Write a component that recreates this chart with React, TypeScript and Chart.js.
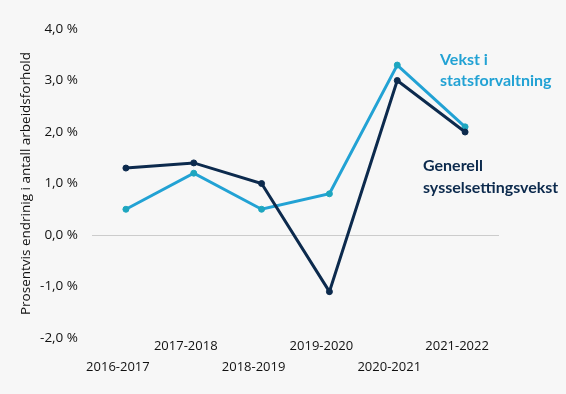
import React, { useEffect, useRef } from "react";
import { Chart, registerables } from "chart.js";

Chart.register(...registerables);

const categories = ["2016-2017", "2017-2018", "2018-2019", "2019-2020", "2020-2021", "2021-2022"];
const generellVekst = [1.3, 1.4, 1.0, -1.1, 3.0, 2.0];
const statsVekst = [0.5, 1.2, 0.5, 0.8, 3.3, 2.1];
const yTitle = "Prosentvis endrinig i antall arbeidsforhold";
const statsLabel = ["Vekst i", "statsforvaltning"];
const generellLabel = ["Generell", "sysselsettingsvekst"];

const DARK = "#0c2a4d";
const LIGHT = "#22a2d4";
const LIGHT_PT = "#1ea6bf";
const BG = "#f7f7f7";

const annotations = {
  id: "annotations",
  afterDraw(chart: any) {
    const ctx = chart.ctx;
    ctx.save();
    ctx.font = "bold 16px Lato";
    ctx.textBaseline = "middle";
    ctx.textAlign = "left";
    ctx.fillStyle = LIGHT;
    ctx.fillText(statsLabel[0], 440, 60);
    ctx.fillText(statsLabel[1], 440, 81);
    ctx.fillStyle = DARK;
    ctx.fillText(generellLabel[0], 423, 166);
    ctx.fillText(generellLabel[1], 423, 188);
    ctx.restore();
  },
};

export default function App() {
  const ref = useRef<HTMLCanvasElement>(null);
  useEffect(() => {
    document.body.style.margin = "0";
    document.body.style.background = BG;
    const labels = categories.map((c, i) => (i % 2 === 0 ? ["", c] : [c]));
    const chart = new Chart(ref.current!, {
      type: "line",
      data: {
        labels,
        datasets: [
          {
            data: generellVekst,
            borderColor: DARK,
            backgroundColor: DARK,
            pointBackgroundColor: DARK,
            pointBorderColor: DARK,
            borderWidth: 3,
            pointRadius: 3,
            pointBorderWidth: 1,
            tension: 0,
          },
          {
            data: statsVekst,
            borderColor: LIGHT,
            backgroundColor: LIGHT_PT,
            pointBackgroundColor: LIGHT_PT,
            pointBorderColor: LIGHT_PT,
            borderWidth: 3,
            pointRadius: 3,
            pointBorderWidth: 1,
            tension: 0,
          },
        ],
      },
      options: {
        animation: false,
        responsive: false,
        layout: { padding: { top: 29, right: 67, left: 8, bottom: 0 } },
        plugins: { legend: { display: false }, tooltip: { enabled: false } },
        scales: {
          x: {
            offset: true,
            grid: { display: false, drawTicks: false },
            border: { display: false },
            ticks: {
              color: "#111",
              font: { family: "Open Sans", size: 13, lineHeight: 1.6 },
              maxRotation: 0,
              autoSkip: false,
              padding: -2,
              labelOffset: -8,
            },
            afterFit: (s: any) => {
              s.height = 56;
            },
          },
          y: {
            min: -2,
            max: 4,
            ticks: {
              stepSize: 1,
              color: "#111",
              font: { family: "Open Sans", size: 13.5 },
              padding: 14,
              callback: (v: any) => Number(v).toFixed(1).replace(".", ",") + " %",
            },
            grid: {
              drawTicks: false,
              color: (c: any) => (c.tick && c.tick.value === 0 ? "#cccccc" : "transparent"),
            },
            border: { display: false },
            title: {
              display: true,
              text: yTitle,
              color: "#111",
              font: { family: "Open Sans", size: 13.5 },
              padding: { top: 10, bottom: 0 },
            },
            afterFit: (s: any) => {
              s.width = 84;
            },
          },
        },
      },
      plugins: [annotations],
    });
    return () => chart.destroy();
  }, []);
  return (
    <div style={{ width: 566, height: 394, background: BG }}>
      <canvas ref={ref} width={566} height={394} />
    </div>
  );
}
